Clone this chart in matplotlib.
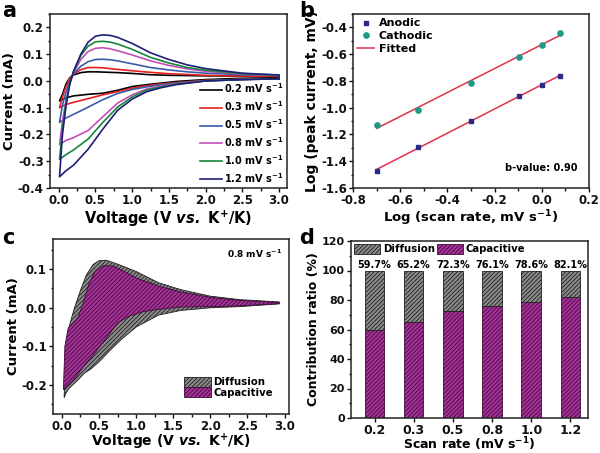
import matplotlib
matplotlib.use("Agg")
import matplotlib.pyplot as plt
import matplotlib.patches as mpatches
from matplotlib.ticker import MultipleLocator
import numpy as np

plt.rcParams["font.family"] = ["DejaVu Sans"]
plt.rcParams["font.weight"] = "bold"
plt.rcParams["axes.labelweight"] = "bold"
plt.rcParams["mathtext.fontset"] = "custom"
plt.rcParams["mathtext.rm"] = "DejaVu Sans:bold"
plt.rcParams["mathtext.bf"] = "DejaVu Sans:bold"
plt.rcParams["mathtext.it"] = "DejaVu Sans:italic:bold"
plt.rcParams["mathtext.bfit"] = "DejaVu Sans:italic:bold"
plt.rcParams["mathtext.default"] = "bf"
plt.rcParams["hatch.linewidth"] = 0.6

# ---- panel a: CV curves at different scan rates ----
rates = ["0.2", "0.3", "0.5", "0.8", "1.0", "1.2"]
rate_colors = ["#000000", "#e5201d", "#3b5ba8", "#c24fb9", "#18853a", "#1d1f78"]

# cathodic sweep (3.0 V -> 0 V)
v_cat = [3.0, 2.5, 2.0, 1.6, 1.4, 1.2, 1.0, 0.8, 0.6, 0.4, 0.2, 0.1, 0.01]
i_cat = [
    [0.012, 0.010, 0.005, -0.002, -0.008, -0.014, -0.021, -0.035, -0.046, -0.050, -0.056, -0.063, -0.075],
    [0.008, 0.006, 0.002, -0.006, -0.011, -0.018, -0.027, -0.040, -0.052, -0.066, -0.080, -0.088, -0.100],
    [0.008, 0.006, 0.001, -0.008, -0.014, -0.022, -0.032, -0.047, -0.070, -0.098, -0.125, -0.138, -0.155],
    [0.008, 0.005, 0.000, -0.011, -0.019, -0.030, -0.052, -0.083, -0.134, -0.185, -0.212, -0.222, -0.238],
    [0.008, 0.005, 0.000, -0.012, -0.022, -0.034, -0.060, -0.098, -0.155, -0.217, -0.258, -0.275, -0.293],
    [0.008, 0.005, 0.000, -0.014, -0.025, -0.040, -0.068, -0.110, -0.180, -0.255, -0.315, -0.335, -0.358],
]
# anodic sweep (0 V -> 3.0 V)
v_an = [0.01, 0.05, 0.1, 0.15, 0.2, 0.3, 0.4, 0.5, 0.6, 0.7, 0.8, 1.0, 1.25, 1.5, 1.75, 2.0, 2.5, 3.0]
i_an = [
    [-0.075, -0.050, -0.010, 0.012, 0.022, 0.031, 0.034, 0.034, 0.033, 0.032, 0.031, 0.028, 0.023, 0.021, 0.020, 0.019, 0.018, 0.020],
    [-0.100, -0.060, -0.020, 0.010, 0.025, 0.042, 0.050, 0.050, 0.049, 0.046, 0.043, 0.038, 0.032, 0.027, 0.024, 0.021, 0.018, 0.017],
    [-0.155, -0.090, -0.040, 0.000, 0.025, 0.055, 0.072, 0.080, 0.081, 0.079, 0.075, 0.064, 0.050, 0.041, 0.034, 0.029, 0.023, 0.020],
    [-0.238, -0.150, -0.070, -0.010, 0.030, 0.080, 0.110, 0.122, 0.124, 0.120, 0.113, 0.097, 0.075, 0.058, 0.045, 0.036, 0.025, 0.021],
    [-0.293, -0.180, -0.080, -0.010, 0.035, 0.095, 0.130, 0.146, 0.148, 0.145, 0.138, 0.118, 0.088, 0.067, 0.050, 0.040, 0.027, 0.022],
    [-0.358, -0.200, -0.090, -0.010, 0.035, 0.100, 0.145, 0.167, 0.172, 0.170, 0.163, 0.140, 0.105, 0.080, 0.060, 0.046, 0.029, 0.022],
]

# ---- panel b: log(peak current) vs log(scan rate) ----
log_rate = [-0.699, -0.523, -0.301, -0.097, 0.0, 0.079]
log_anodic = [-1.47, -1.29, -1.10, -0.915, -0.83, -0.76]
log_cathodic = [-1.13, -1.015, -0.815, -0.62, -0.53, -0.44]

# ---- panel c: capacitive vs diffusion at 0.8 mV/s ----
tot_v_up = [0.03, 0.04, 0.06, 0.11, 0.17, 0.25, 0.33, 0.42, 0.5, 0.6, 0.75, 1.0, 1.3, 1.6, 2.0, 2.4, 2.93]
tot_i_up = [-0.233, -0.17, -0.085, -0.04, 0.0, 0.045, 0.085, 0.112, 0.122, 0.123, 0.113, 0.094, 0.065, 0.047, 0.030, 0.021, 0.015]
tot_v_low = [2.93, 2.4, 2.0, 1.6, 1.3, 1.0, 0.8, 0.65, 0.5, 0.4, 0.3, 0.2, 0.1, 0.06]
tot_i_low = [0.010, 0.003, 0.0, -0.007, -0.019, -0.050, -0.082, -0.110, -0.140, -0.157, -0.170, -0.190, -0.208, -0.219]

cap_v_up = [0.02, 0.04, 0.085, 0.15, 0.22, 0.3, 0.36, 0.45, 0.56, 0.69, 0.85, 1.0, 1.32, 1.6, 2.0, 2.4, 2.93]
cap_i_up = [-0.212, -0.10, -0.052, -0.040, -0.025, 0.020, 0.060, 0.095, 0.109, 0.108, 0.093, 0.077, 0.055, 0.041, 0.027, 0.019, 0.014]
cap_v_low = [2.93, 2.4, 2.0, 1.6, 1.3, 1.1, 0.9, 0.75, 0.6, 0.5, 0.4, 0.3, 0.15, 0.05]
cap_i_low = [0.011, 0.005, 0.003, 0.002, -0.004, -0.010, -0.022, -0.040, -0.078, -0.103, -0.128, -0.150, -0.188, -0.205]

# ---- panel d: contribution ratio ----
bar_labels = ["0.2", "0.3", "0.5", "0.8", "1.0", "1.2"]
capacitive = [59.7, 65.2, 72.3, 76.1, 78.6, 82.1]
diffusion = [100 - c for c in capacitive]

gray_fc, gray_hc = "#8c8c8c", "#1e1e1e"
mag_fc, mag_hc = "#a8339a", "#3e0a38"
HATCH = "////////"

W, H = 600, 453
fig = plt.figure(figsize=(6, 4.53), dpi=100)


def box(l, r, t, b):
    return [l / W, (H - b) / H, (r - l) / W, (b - t) / H]


def style(ax, size=8.5):
    for s in ax.spines.values():
        s.set_linewidth(1.1)
        s.set_color("#222222")
    ax.tick_params(which="both", direction="out", top=False, right=False,
                   labelsize=size, width=1, colors="#111111", pad=1.5)
    ax.tick_params(which="major", length=3)
    ax.tick_params(which="minor", length=1.8)


one_dec = plt.FuncFormatter(lambda y, p: f"{y:.1f}")

# a
ax = fig.add_axes(box(50, 287, 14, 188))
for k in range(len(rates)):
    v = v_cat + v_an + [v_cat[0]]
    i = i_cat[k] + i_an[k] + [i_cat[k][0]]
    ax.plot(v, i, color=rate_colors[k], lw=1.2, label=rates[k] + r" mV s$^{-1}$")
ax.set_xlim(-0.12, 3.11)
ax.set_ylim(-0.4, 0.25)
ax.xaxis.set_major_locator(MultipleLocator(0.5))
ax.xaxis.set_minor_locator(MultipleLocator(0.25))
ax.yaxis.set_major_locator(MultipleLocator(0.1))
ax.yaxis.set_minor_locator(MultipleLocator(0.05))
ax.yaxis.set_major_formatter(one_dec)
ax.set_xlabel(r"Voltage (V $\mathbfit{vs.}$ K$^{+}$/K)", fontsize=10.5, labelpad=1)
ax.set_ylabel("Current (mA)", fontsize=9.5, labelpad=1)
ax.legend(loc="lower right", frameon=False, fontsize=7, handlelength=2.3,
          labelspacing=0.42, handletextpad=0.2, borderaxespad=0.15, borderpad=0.2)
style(ax)
fig.text(2 / W, 1 - 1 / H, "a", fontsize=15, fontweight="bold", va="top")

# b
ax = fig.add_axes(box(353, 589, 14, 188))
ax.plot(log_rate, log_anodic, "s", color="#2b2b86", ms=3.2, label="Anodic", zorder=3)
ax.plot(log_rate, log_cathodic, "o", color="#1f9a86", ms=3.8, label="Cathodic", zorder=3)
xr = np.array([min(log_rate), max(log_rate)])
for ys in (log_anodic, log_cathodic):
    p = np.polyfit(log_rate, ys, 1)
    ax.plot(xr, np.polyval(p, xr), color="#e3304d", lw=1.1,
            label="Fitted" if ys is log_anodic else None)
ax.set_xlim(-0.8, 0.2)
ax.set_ylim(-1.6, -0.3)
ax.xaxis.set_major_locator(MultipleLocator(0.2))
ax.xaxis.set_minor_locator(MultipleLocator(0.1))
ax.yaxis.set_major_locator(MultipleLocator(0.2))
ax.yaxis.set_minor_locator(MultipleLocator(0.1))
ax.xaxis.set_major_formatter(one_dec)
ax.yaxis.set_major_formatter(one_dec)
ax.set_xlabel(r"Log (scan rate, mV s$^{-1}$)", fontsize=9.5, labelpad=1)
ax.set_ylabel("Log (peak current, mV)", fontsize=10, labelpad=1)
h, l = ax.get_legend_handles_labels()
ax.legend(h, l, loc="upper left", frameon=False, fontsize=8, handlelength=1.5,
          labelspacing=0.25, handletextpad=0.4, borderaxespad=0.2, borderpad=0.2)
ax.text(0.95, 0.1, "b-value: 0.90", transform=ax.transAxes, ha="right",
        fontsize=7, fontweight="bold")
style(ax)
fig.text(299 / W, 1 - 1 / H, "b", fontsize=15, fontweight="bold", va="top")

# c
ax = fig.add_axes(box(53, 289, 239, 414))
ax.fill(tot_v_up + tot_v_low, tot_i_up + tot_i_low, facecolor=gray_fc,
        edgecolor=gray_hc, hatch=HATCH, lw=0.6)
ax.fill(cap_v_up + cap_v_low, cap_i_up + cap_i_low, facecolor=mag_fc,
        edgecolor=mag_hc, hatch=HATCH, lw=0.6)
ax.set_xlim(-0.12, 3.06)
ax.set_ylim(-0.275, 0.178)
ax.xaxis.set_major_locator(MultipleLocator(0.5))
ax.xaxis.set_minor_locator(MultipleLocator(0.25))
ax.yaxis.set_major_locator(MultipleLocator(0.1))
ax.yaxis.set_minor_locator(MultipleLocator(0.05))
ax.yaxis.set_major_formatter(one_dec)
ax.set_xlabel(r"Voltage (V $\mathbfit{vs.}$ K$^{+}$/K)", fontsize=10, labelpad=-0.5)
ax.set_ylabel("Current (mA)", fontsize=9.5, labelpad=1)
ax.text(0.97, 0.95, r"0.8 mV s$^{-1}$", transform=ax.transAxes, ha="right",
        va="top", fontsize=6.5)
handles = [mpatches.Patch(facecolor=gray_fc, edgecolor=gray_hc, hatch=HATCH, lw=0.6),
           mpatches.Patch(facecolor=mag_fc, edgecolor=mag_hc, hatch=HATCH, lw=0.6)]
ax.legend(handles, ["Diffusion", "Capacitive"], loc="lower right", frameon=False,
          fontsize=7.3, handlelength=2.6, handleheight=1.1, labelspacing=0.0,
          handletextpad=0.25, borderaxespad=1.2)
style(ax)
ax.tick_params(axis="x", pad=1)
fig.text(2 / W, 1 - 228 / H, "c", fontsize=15, fontweight="bold", va="top")

# d
ax = fig.add_axes(box(351, 588, 241, 418))
xs = np.arange(len(bar_labels))
ax.bar(xs, capacitive, width=0.5, color=mag_fc, edgecolor=mag_hc, hatch=HATCH,
       lw=0.6, label="Capacitive")
ax.bar(xs, diffusion, width=0.5, bottom=capacitive, color=gray_fc, edgecolor=gray_hc,
       hatch=HATCH, lw=0.6, label="Diffusion")
for x, c in zip(xs, capacitive):
    ax.text(x, 100.5, f"{c:.1f}%", ha="center", va="bottom", fontsize=7)
ax.set_xlim(-0.6, 5.45)
ax.set_ylim(0, 120)
ax.set_xticks(xs)
ax.set_xticklabels(bar_labels)
ax.yaxis.set_major_locator(MultipleLocator(20))
ax.yaxis.set_minor_locator(MultipleLocator(10))
ax.set_xlabel(r"Scan rate (mV s$^{-1}$)", fontsize=9, labelpad=-1)
ax.set_ylabel("Contribution ratio (%)", fontsize=9, labelpad=1)
h, l = ax.get_legend_handles_labels()
ax.legend(h[::-1], l[::-1], loc="upper left", ncol=2, frameon=False, fontsize=7.3,
          handlelength=2.6, handleheight=1.1, columnspacing=0.2,
          handletextpad=0.25, borderaxespad=0.1, borderpad=0.2)
style(ax, 8)
ax.tick_params(axis="x", labelsize=9, pad=1)
fig.text(299 / W, 1 - 228 / H, "d", fontsize=15, fontweight="bold", va="top")

fig.savefig("out.png", dpi=100)
